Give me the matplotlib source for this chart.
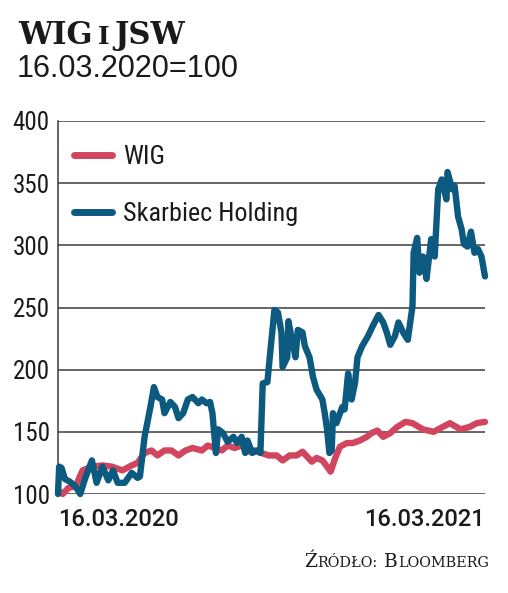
import matplotlib
matplotlib.use('Agg')
from matplotlib import pyplot as plt
from matplotlib.transforms import IdentityTransform
import logging
logging.getLogger('matplotlib.font_manager').setLevel(logging.ERROR)

# days since 16.03.2020
wig_days = [0, 4, 9, 15, 21, 29, 38, 46, 55, 63, 68, 74, 80, 85, 91, 97, 103, 109, 115,
            123, 128, 134, 140, 145, 151, 157, 162, 168, 174, 180, 187, 192, 198, 204,
            209, 213, 217, 221, 226, 230, 233, 237, 241, 247, 252, 258, 264, 268, 273,
            278, 284, 290, 297, 303, 312, 321, 327, 335, 344, 352, 358, 365]
wig = [103, 100, 105, 106, 119, 122, 123, 122, 119, 123, 125, 133, 135, 131, 135, 135,
       131, 135, 137, 135, 139, 137, 135, 139, 137, 139, 134, 135, 133, 131, 131, 127,
       131, 131, 134, 130, 126, 129, 127, 122, 118, 129, 138, 141, 141, 143, 146, 149,
       151, 146, 149, 154, 158, 157, 152, 150, 153, 157, 152, 154, 157, 158]

skarbiec_days = [0, 1, 3, 6, 10, 15, 19, 23, 29, 33, 38, 43, 47, 51, 57, 63, 68, 70, 74,
                 79, 82, 85, 89, 91, 96, 100, 103, 107, 111, 115, 120, 123, 127, 130, 132,
                 135, 137, 141, 145, 150, 153, 157, 160, 162, 166, 170, 173, 175, 179, 181,
                 185, 188, 191, 192, 196, 197, 200, 203, 205, 209, 211, 215, 218, 221, 226,
                 228, 230, 232, 234, 235, 238, 243, 245, 248, 251, 254, 256, 260, 265, 269,
                 274, 278, 281, 284, 288, 291, 295, 299, 303, 304, 307, 309, 312, 315, 319,
                 322, 325, 328, 332, 333, 337, 339, 342, 345, 347, 350, 353, 356, 359, 362,
                 365]
skarbiec = [100, 122, 121, 112, 110, 106, 100, 112, 127, 109, 122, 111, 119, 109, 109, 117,
            113, 114, 146, 170, 186, 178, 176, 165, 174, 170, 161, 165, 176, 178, 173, 176,
            173, 174, 165, 133, 152, 149, 142, 146, 141, 146, 133, 143, 133, 135, 133, 189,
            190, 210, 248, 246, 230, 202, 210, 239, 224, 210, 232, 230, 219, 210, 194, 184,
            176, 165, 152, 133, 135, 165, 157, 170, 168, 197, 176, 190, 210, 219, 227, 235,
            244, 238, 230, 220, 227, 238, 230, 224, 251, 294, 306, 278, 291, 273, 305, 291,
            345, 353, 337, 359, 345, 348, 323, 313, 301, 299, 311, 294, 297, 291, 275]

y_ticks = [100, 150, 200, 250, 300, 350, 400]
x_ticks = [0, 365]
x_labels = ['16.03.2020', '16.03.2021']

WIG_COLOR = '#d2455f'
SKB_COLOR = '#0d5a80'
GRID = '#3c3c3c'
TEXT = '#1a1a1a'
NARROW = ['Roboto Condensed', 'Liberation Sans Narrow', 'Open Sans Condensed',
          'DejaVu Sans Condensed', 'Roboto']

fig = plt.figure(figsize=(5.08, 5.93), dpi=100)
ax = fig.add_axes([58 / 508, 1 - 494 / 593, 427 / 508, 373 / 593])

ax.plot(wig_days, wig, color=WIG_COLOR, lw=4.6, solid_capstyle='round',
        solid_joinstyle='round', label='WIG', clip_on=False, zorder=3)
ax.plot(skarbiec_days, skarbiec, color=SKB_COLOR, lw=4.6, solid_capstyle='round',
        solid_joinstyle='round', label='Skarbiec Holding', clip_on=False, zorder=4)

ax.set_xlim(0, 365)
ax.set_ylim(100, 400)
ax.set_yticks(y_ticks)
ax.set_xticks(x_ticks)
ax.set_xticklabels(x_labels, family='Roboto', weight='medium', fontsize=17, color=TEXT)
ax.get_xticklabels()[0].set_ha('left')
ax.get_xticklabels()[1].set_ha('right')
for lbl in ax.get_yticklabels():
    lbl.set_family(NARROW)
    lbl.set_fontstretch('condensed')
    lbl.set_fontsize(18)
    lbl.set_color(TEXT)
ax.tick_params(length=0)
ax.tick_params(axis='y', pad=6)
ax.tick_params(axis='x', pad=10)
ax.grid(axis='y', color=GRID, lw=1.1)
ax.set_axisbelow(True)
for side in ['top', 'right', 'bottom']:
    ax.spines[side].set_visible(False)
ax.spines['left'].set_color(GRID)
ax.spines['left'].set_linewidth(1.1)

leg = ax.legend(loc='upper left', bbox_to_anchor=(74 / 508, 1 - 145 / 593),
                bbox_transform=fig.transFigure, frameon=False, handlelength=1.45,
                handletextpad=0.42, labelspacing=1.25, borderpad=0, borderaxespad=0,
                prop={'family': NARROW, 'size': 18.8, 'stretch': 'condensed'})
for t in leg.get_texts():
    t.set_color(TEXT)
for h in leg.get_lines():
    h.set_linewidth(5)
    h.set_solid_capstyle('round')


def small_caps(x, y, pieces, family, weight, color=TEXT):
    renderer = fig.canvas.get_renderer()
    for txt, size, gap in pieces:
        t = fig.text(x, y, txt, fontsize=size, family=family, weight=weight,
                     color=color, transform=IdentityTransform(), va='baseline')
        x = t.get_window_extent(renderer).x1 + gap


small_caps(18, 593 - 44, [('WIG', 22, 5), ('I', 18, 5), ('JSW', 22, 0)],
           'DejaVu Serif', 'bold')
fig.text(17, 593 - 77, '16.03.2020=100', fontsize=22, family='Liberation Sans',
         color=TEXT, transform=IdentityTransform(), va='baseline')
small_caps(304, 593 - 567, [('Ź', 13.4, 0.5), ('RÓDŁO:', 10.4, 6), ('B', 13.4, 0.5),
                            ('LOOMBERG', 10.4, 0)], 'DejaVu Serif', 'normal')

plt.savefig('out.png', dpi=100)
